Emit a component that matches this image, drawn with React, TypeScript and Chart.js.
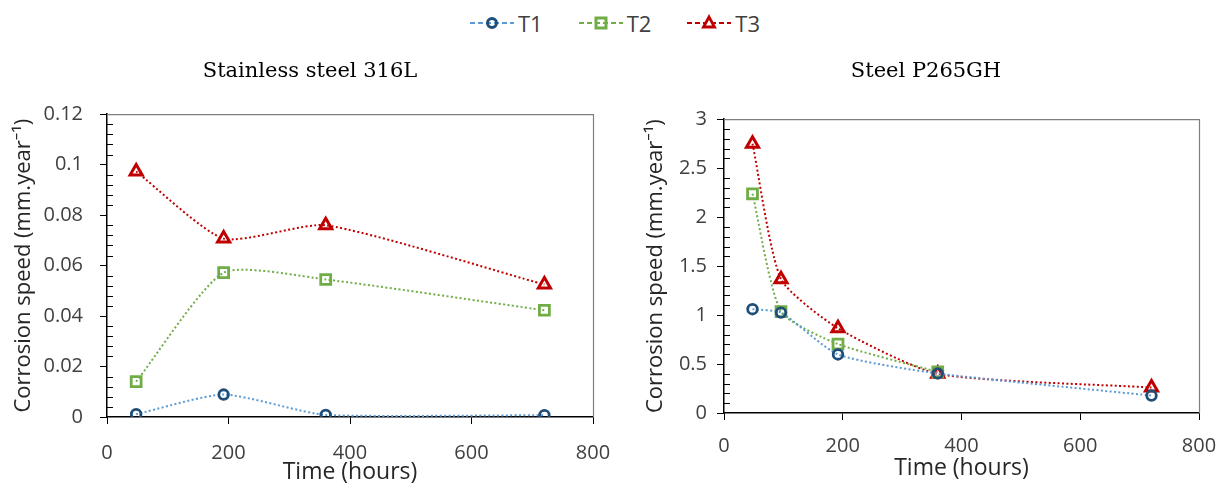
import React, { useEffect, useRef } from "react";
import { Chart, registerables } from "chart.js";

Chart.register(...registerables);

// ---------- data ----------
const seriesNames = ["T1", "T2", "T3"];

// Stainless steel 316L
const ssHours = [48, 192, 360, 720];
const ssT1 = [0.0011, 0.0089, 0.0008, 0.0007];
const ssT2 = [0.014, 0.0572, 0.0545, 0.0423];
const ssT3 = [0.0973, 0.0707, 0.076, 0.0525];

// Steel P265GH
const cHours = [48, 96, 192, 360, 720];
const cT1 = [1.06, 1.025, 0.598, 0.404, 0.178];
const cT2 = [2.238, 1.035, 0.704, 0.42];
const cT3 = [2.75, 1.367, 0.865, 0.4, 0.26];

const xTicks = [0, 200, 400, 600, 800];
const xTickLabels = ["0", "200", "400", "600", "800"];
const ssYTicks = [0, 0.02, 0.04, 0.06, 0.08, 0.1, 0.12];
const ssYTickLabels = ["0", "0.02", "0.04", "0.06", "0.08", "0.1", "0.12"];
const cYTicks = [0, 0.5, 1, 1.5, 2, 2.5, 3];
const cYTickLabels = ["0", "0.5", "1", "1.5", "2", "2.5", "3"];

const titles = ["Stainless steel 316L", "Steel P265GH"];
const yTitle = "Corrosion speed (mm.year\u207B\u00B9)";
const xTitle = "Time (hours)";

// ---------- styles ----------
const FONT = "'Open Sans', 'Noto Sans', sans-serif";
const TEXT = "#404040";
const lineColors = ["#5B9BD5", "#70AD47", "#C00000"];
const markerColors = ["#1F4E79", "#70AD47", "#C00000"];
const pointStyles = ["circle", "rect", "triangle"];
const pointRadii = [4.8, 7, 7];
const pointBorders = [2.8, 2.8, 3];

function makeDataset(i: number, xs: number[], ys: number[]) {
  return {
    label: seriesNames[i],
    data: ys.map((y, k) => ({ x: xs[k], y })),
    borderColor: lineColors[i],
    borderWidth: 2,
    borderDash: [2, 2.4],
    tension: 0.2,
    pointStyle: pointStyles[i],
    pointRadius: pointRadii[i],
    pointBorderWidth: pointBorders[i],
    pointBorderColor: markerColors[i],
    pointBackgroundColor: "rgba(255,255,255,0)",
    fill: false,
  };
}

const framePlugin = {
  id: "frame",
  beforeDatasetsDraw(chart: any, _args: any, opts: any) {
    const { ctx, chartArea } = chart;
    const { left, right, top, bottom } = chartArea;
    ctx.save();
    ctx.strokeStyle = "#7f7f7f";
    ctx.lineWidth = 1.2;
    ctx.beginPath();
    ctx.moveTo(left, top + 0.5);
    ctx.lineTo(right + 0.5, top + 0.5);
    ctx.lineTo(right + 0.5, bottom);
    ctx.stroke();
    // minor ticks on y axis (inside)
    const y = chart.scales.y;
    const step = opts.minorStep;
    const major = opts.majorStep;
    ctx.strokeStyle = "#000";
    ctx.lineWidth = 1;
    const n = Math.round((y.max - y.min) / step);
    for (let k = 1; k < n; k++) {
      const v = y.min + k * step;
      if (Math.abs(v / major - Math.round(v / major)) < 1e-6) continue;
      const py = Math.round(y.getPixelForValue(v)) + 0.5;
      ctx.beginPath();
      ctx.moveTo(left, py);
      ctx.lineTo(left + 6, py);
      ctx.stroke();
    }
    ctx.restore();
  },
};

function makeConfig(p: {
  title: string;
  datasets: any[];
  yMax: number;
  yTicks: number[];
  yLabels: string[];
  minorStep: number;
  majorStep: number;
  yWidth: number;
  xHeight: number;
  padLeft: number;
  padRight: number;
  titlePadTop: number;
  titlePadBottom: number;
  yTitlePad: number;
  yTickPad: number;
  xTickPad: number;
  xTitlePadBottom: number;
}) {
  return {
    type: "line",
    data: { datasets: p.datasets },
    plugins: [framePlugin],
    options: {
      animation: false,
      responsive: false,
      devicePixelRatio: 1,
      layout: { padding: { left: p.padLeft, right: p.padRight, top: 0, bottom: 0 } },
      plugins: {
        legend: { display: false },
        tooltip: { enabled: false },
        title: {
          display: true,
          text: p.title,
          color: "#000",
          font: { family: "'DejaVu Serif', 'Liberation Serif', serif", size: 21, weight: "normal" },
          padding: { top: p.titlePadTop, bottom: p.titlePadBottom },
        },
        frame: { minorStep: p.minorStep, majorStep: p.majorStep },
      },
      scales: {
        x: {
          type: "linear",
          min: 0,
          max: 800,
          afterBuildTicks: (s: any) => {
            s.ticks = xTicks.map((v) => ({ value: v }));
          },
          afterFit: (s: any) => {
            s.height = p.xHeight;
            s.paddingLeft = 0;
            s.paddingRight = 0;
          },
          ticks: {
            color: TEXT,
            font: { family: FONT, size: 20 },
            padding: p.xTickPad,
            maxRotation: 0,
            callback: (v: number) => xTickLabels[xTicks.indexOf(v)],
          },
          grid: { display: true, drawOnChartArea: false, drawTicks: true, tickLength: 7, color: "#000", lineWidth: 1 },
          border: { display: true, color: "#000", width: 1.5 },
          title: {
            display: true,
            text: xTitle,
            color: "#262626",
            font: { family: FONT, size: 23 },
            padding: { top: 0, bottom: p.xTitlePadBottom },
          },
        },
        y: {
          type: "linear",
          min: 0,
          max: p.yMax,
          afterBuildTicks: (s: any) => {
            s.ticks = p.yTicks.map((v) => ({ value: v }));
          },
          afterFit: (s: any) => {
            s.width = p.yWidth;
          },
          ticks: {
            color: TEXT,
            font: { family: FONT, size: 20 },
            padding: p.yTickPad,
            callback: (v: number) => p.yLabels[p.yTicks.indexOf(v)],
          },
          grid: { display: true, drawOnChartArea: false, drawTicks: true, tickLength: 7, color: "#000", lineWidth: 1 },
          border: { display: true, color: "#000", width: 1.5 },
          title: {
            display: true,
            text: yTitle,
            color: "#262626",
            font: { family: FONT, size: 22 },
            padding: { top: p.yTitlePad, bottom: 0 },
          },
        },
      },
    },
  };
}

function ChartBox({ config, left, top, width, height }: any) {
  const ref = useRef<HTMLCanvasElement>(null);
  useEffect(() => {
    const chart = new Chart(ref.current as HTMLCanvasElement, config);
    return () => chart.destroy();
  }, []);
  return (
    <canvas
      ref={ref}
      width={width}
      height={height}
      style={{ position: "absolute", left, top, width, height }}
    />
  );
}

function LegendIcon({ i }: { i: number }) {
  const c = markerColors[i];
  const lc = lineColors[i];
  let marker: any = null;
  if (i === 0) marker = <circle cx={22} cy={11} r={4.5} fill="none" stroke={c} strokeWidth={3} />;
  if (i === 1) marker = <rect x={17} y={6} width={10} height={10} fill="none" stroke={c} strokeWidth={3} />;
  if (i === 2) marker = <polygon points="22,5 27.5,15 16.5,15" fill="#fff" stroke={c} strokeWidth={2.8} strokeLinejoin="miter" />;
  return (
    <svg width={44} height={22} style={{ display: "block" }}>
      <line x1={0} y1={11} x2={44} y2={11} stroke={lc} strokeWidth={2} strokeDasharray="5 3" />
      {marker}
    </svg>
  );
}

export default function App() {
  const leftCfg = makeConfig({
    title: titles[0],
    datasets: [makeDataset(0, ssHours, ssT1), makeDataset(1, ssHours, ssT2), makeDataset(2, ssHours, ssT3)],
    yMax: 0.12,
    yTicks: ssYTicks,
    yLabels: ssYTickLabels,
    minorStep: 0.004,
    majorStep: 0.02,
    yWidth: 80,
    xHeight: 69,
    padLeft: 27,
    padRight: 27,
    titlePadTop: 19,
    titlePadBottom: 30,
    yTitlePad: -16,
    yTickPad: 17,
    xTickPad: 17,
    xTitlePadBottom: 0,
  });
  const rightCfg = makeConfig({
    title: titles[1],
    datasets: [makeDataset(0, cHours, cT1), makeDataset(1, cHours, cT2), makeDataset(2, cHours, cT3)],
    yMax: 3,
    yTicks: cYTicks,
    yLabels: cYTickLabels,
    minorStep: 0.1,
    majorStep: 0.5,
    yWidth: 71,
    xHeight: 73,
    padLeft: 19,
    padRight: 19,
    titlePadTop: 19,
    titlePadBottom: 35,
    yTitlePad: -10,
    yTickPad: 10,
    xTickPad: 14,
    xTitlePadBottom: 4,
  });

  return (
    <div
      style={{
        position: "absolute",
        left: 0,
        top: 0,
        width: 1218,
        height: 486,
        overflow: "hidden",
        background: "#fff",
      }}
    >
      <div
        style={{
          position: "absolute",
          left: 6,
          top: 10,
          width: 1218,
          height: 26,
          display: "flex",
          justifyContent: "center",
          alignItems: "center",
          gap: 36,
          fontFamily: FONT,
          fontSize: 22,
          color: TEXT,
        }}
      >
        {seriesNames.map((n, i) => (
          <div key={n} style={{ display: "flex", alignItems: "center", gap: 4 }}>
            <LegendIcon i={i} />
            <span style={{ lineHeight: "26px" }}>{n}</span>
          </div>
        ))}
      </div>
      <ChartBox config={leftCfg} left={0} top={40} width={620} height={446} />
      <ChartBox config={rightCfg} left={634} top={40} width={584} height={446} />
    </div>
  );
}
